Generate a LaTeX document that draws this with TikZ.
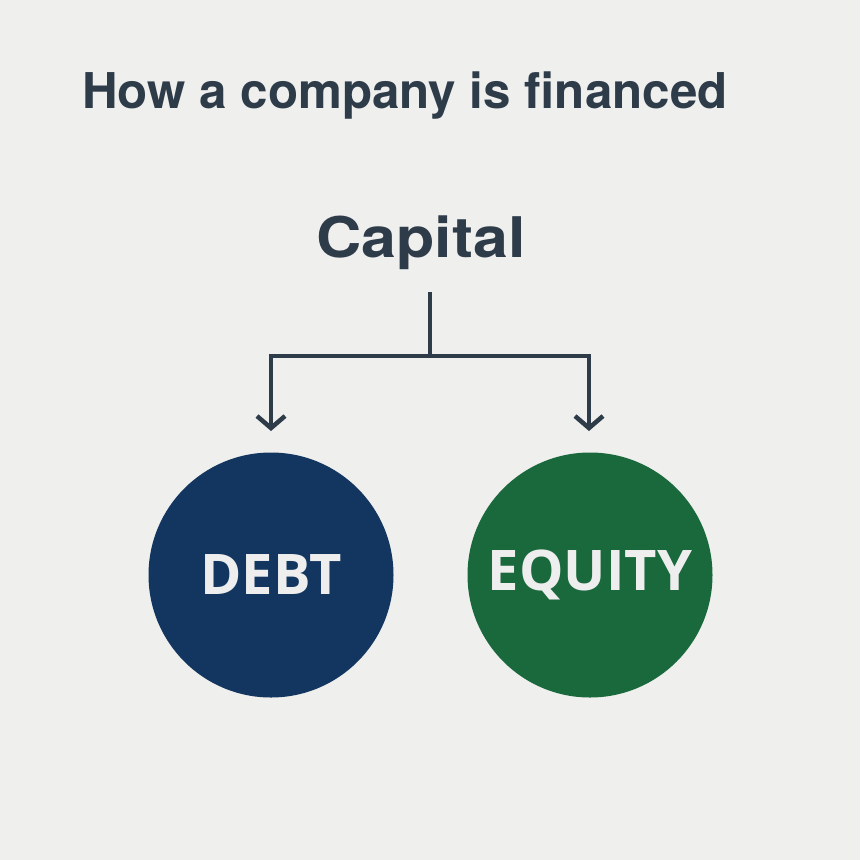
\documentclass[tikz,border=0pt]{standalone}
\usepackage{fontspec}
\setmainfont{TeX Gyre Heros}
\newfontfamily\capfont[FakeStretch=1.12]{TeX Gyre Heros}
\newfontfamily\circfont{Open Sans}
\usetikzlibrary{arrows.meta}
\definecolor{bg}{HTML}{EFEFEE}
\definecolor{ink}{HTML}{2E3B49}
\definecolor{debtblue}{HTML}{133660}
\definecolor{eqgreen}{HTML}{19693C}
\definecolor{light}{HTML}{EEEEEE}
\begin{document}
\begin{tikzpicture}[x=1pt,y=-1pt,
  conn/.style={draw=ink,line width=4.5pt},
  arr/.style={conn,-{Straight Barb[length=12pt,width=28pt,line width=4.5pt]}},
  circ/.style={circle,minimum size=245pt,inner sep=0pt,text=light,font=\circfont\bfseries\fontsize{56}{60}\selectfont},
  ttl/.style={text=ink,font=\bfseries\fontsize{49.3}{52}\selectfont,inner sep=0pt,anchor=base west}]
\fill[bg] (0,0) rectangle (860,860);
\useasboundingbox (0,0) rectangle (860,860);
\node[ttl] (title) at (82,108) {How a company is financed};
\node[text=ink,font=\capfont\bfseries\fontsize{56}{60}\selectfont,inner sep=0pt,anchor=base] (cap) at (421,257) {Capital};
\node[circ,fill=debtblue] (debt) at (271,575) {DEBT};
\node[circ,fill=eqgreen] (eq) at (590,575) {EQUITY};
\coordinate (top) at (430,292);
\coordinate (mid) at (430,356);
\coordinate (lt) at (271,356);
\coordinate (rt) at (589,356);
\coordinate (le) at (271,431);
\coordinate (re) at (589,431);
\draw[conn] (top) -- (mid);
\draw[conn,line cap=butt] ([xshift=-2.25pt]lt) -- ([xshift=2.25pt]rt);
\draw[arr] ([yshift=-2.25pt]lt) -- (le);
\draw[arr] ([yshift=-2.25pt]rt) -- (re);
\end{tikzpicture}
\end{document}
